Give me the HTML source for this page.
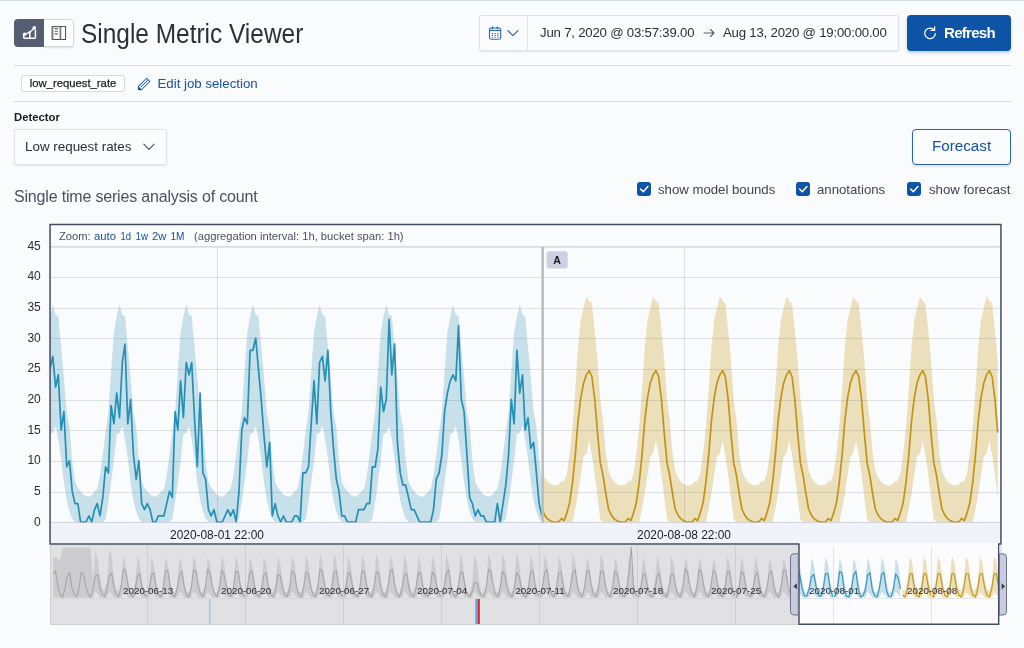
<!DOCTYPE html>
<html><head><meta charset="utf-8"><title>Single Metric Viewer</title>
<style>
*{box-sizing:border-box;margin:0;padding:0}
html,body{width:1024px;height:648px;overflow:hidden;background:#fafbfd;font-family:"Liberation Sans",sans-serif;color:#1a1c21}
.abs{position:absolute}
#topline{left:0;top:0;width:1024px;height:1px;background:#d3dae6}
.hr{height:1px;background:#d3dae6;left:14px;width:997px}
#bg1{left:14.3px;top:18.8px;width:30px;height:28px;background:#575e71;border-radius:4px 0 0 4px}
#bg2{left:43.8px;top:18.8px;width:29.9px;height:28px;background:#fff;border:1px solid #d3dae6;border-left:none;border-radius:0 4px 4px 0;box-shadow:0 1px 2px rgba(100,110,140,.2)}
#title{left:81px;top:16.5px;font-size:27px;line-height:34px;white-space:nowrap;color:#2c2f37;transform:scaleX(.905);transform-origin:0 0}
#dp{left:479.3px;top:14.8px;width:419.7px;height:36.2px;background:#fbfcfd;border:1px solid #dde2ec;border-radius:2px;box-shadow:0 1px 2px rgba(120,130,160,.18)}
#dpsep{left:527px;top:16px;width:1px;height:34px;background:#dfe4ee}
.dpt{top:15px;height:36px;line-height:36px;font-size:13.2px;color:#2b2e36;white-space:nowrap;letter-spacing:-0.2px}
#refresh{left:907px;top:15px;width:104px;height:35.6px;background:#0e54a6;border-radius:4px;box-shadow:0 2px 3px rgba(14,84,166,.25)}
#refresh span{position:absolute;left:37px;top:0;line-height:35px;font-size:15px;font-weight:bold;color:#fff;letter-spacing:-0.7px}
#badge{left:21px;top:74.8px;width:104px;height:17.6px;-webkit-text-stroke:0.25px #1a1c21;background:#fff;border:1px solid #d3dae6;border-radius:3px;font-size:11.3px;line-height:15.6px;text-align:center;color:#1a1c21;white-space:nowrap}
#edit{left:157.5px;top:75px;font-size:13.25px;line-height:18px;color:#1452a2;white-space:nowrap}
#detlab{left:14px;top:110px;font-size:11.3px;line-height:14px;font-weight:bold;color:#1a1c21}
#select{left:14px;top:129px;width:153px;height:36px;background:#fbfcfd;border:1px solid #dde2ec;border-radius:2px;box-shadow:0 1px 2px rgba(120,130,160,.18)}
#select span{position:absolute;left:10px;top:0;line-height:34px;font-size:13.4px;color:#2b2e36;white-space:nowrap}
#forecast{left:912px;top:129px;width:99.2px;height:36px;border:1px solid #2a62ab;border-radius:4px;background:#fbfcfd;text-align:center;line-height:32px;font-size:15.2px;color:#1452a2;box-shadow:0 2px 2px rgba(20,82,162,.12)}
#subtitle{left:14px;top:186.7px;font-size:16px;line-height:20px;color:#4a5061;white-space:nowrap;letter-spacing:-0.18px}
.cb{top:182px;width:14px;height:14px;background:#0e54a6;border-radius:3px}
.cbl{top:181.6px;font-size:13.2px;line-height:16px;color:#3f4450;white-space:nowrap}
svg text{font-family:"Liberation Sans",sans-serif}
</style></head><body>
<div id="wrap" class="abs" style="left:0;top:0;width:1024px;height:648px;will-change:transform">
<div class="abs" id="topline"></div>

<!-- view toggle button group -->
<div class="abs" id="bg1"></div>
<div class="abs" id="bg2"></div>
<svg class="abs" style="left:14px;top:19px" width="60" height="28" viewBox="0 0 60 28">
  <path d="M9.7 16.6v2a.7.7 0 0 0 .7.7h10.3a.7.7 0 0 0 .7-.7v-7" fill="none" stroke="#fff" stroke-width="1.5" stroke-linecap="round"/>
  <path d="M15.8 13.6v5.6" fill="none" stroke="#fff" stroke-width="1.6"/>
  <path d="M10.6 15.3l5.2-2.1 4.6-4.2" fill="none" stroke="#fff" stroke-width="1.25"/>
  <g fill="#fff"><circle cx="10.6" cy="15.3" r="1.8"/><circle cx="15.8" cy="13.2" r="1.15"/><circle cx="20.3" cy="8.9" r="1.85"/></g>
  <g fill="none" stroke="#48494f" stroke-width="1">
    <rect x="38.2" y="7.6" width="13.4" height="12.9"/>
    <path d="M40.6 9.6h3.3M40.6 12.2h3.3M40.6 14.9h3.3" stroke="#5d5e64" stroke-width="1.1"/>
    <path d="M46.4 7.6v12.9" stroke="#77787e" stroke-width="1.7"/>
    <path d="M38.6 7.6v12.9" stroke="#77787e" stroke-width="1.5"/>
  </g>
</svg>
<div class="abs" id="title">Single Metric Viewer</div>

<!-- date picker -->
<div class="abs" id="dp"></div>
<div class="abs" id="dpsep"></div>
<svg class="abs" style="left:486px;top:22px" width="40" height="22" viewBox="0 0 40 22">
  <g fill="none" stroke="#2f66ad" stroke-width="1.1" stroke-linejoin="round">
    <rect x="3.5" y="6" width="11.2" height="11.2" rx="1.6"/>
    <path d="M3.5 8.5h11.2"/>
    <path d="M6.6 5.2v1.4M11.4 5.2v1.4" stroke-width="1.6" stroke-linecap="round"/>
    <path d="M6.45 11v5M9.15 11v5M11.9 11v5" stroke-width="1.2" stroke-dasharray="1.1 0.75"/>
    <path d="M21.9 8.7l5 5 5-5" stroke-width="1.2" stroke-linecap="round"/>
  </g>
</svg>
<div class="abs dpt" style="left:540px">Jun 7, 2020 @ 03:57:39.00</div>
<svg class="abs" style="left:703px;top:27px" width="14" height="12" viewBox="0 0 14 12"><path d="M1 6h10M7.5 2.5L11 6l-3.5 3.5" fill="none" stroke="#555b68" stroke-width="1.1" stroke-linecap="round" stroke-linejoin="round"/></svg>
<div class="abs dpt" style="left:723px">Aug 13, 2020 @ 19:00:00.00</div>

<!-- refresh -->
<div class="abs" id="refresh">
  <svg class="abs" style="left:15px;top:10px" width="16" height="16" viewBox="0 0 16 16"><path d="M12.2 5.1A5.3 5.3 0 1 0 13.3 8.6" fill="none" stroke="#fff" stroke-width="1.3" stroke-linecap="round"/><path d="M12.6 1.8v3.6H9.2" fill="none" stroke="#fff" stroke-width="1.3" stroke-linecap="round" stroke-linejoin="round"/></svg>
  <span>Refresh</span>
</div>

<div class="abs hr" style="top:65px"></div>
<div class="abs" id="badge">low_request_rate</div>
<svg class="abs" style="left:136.5px;top:76.5px" width="14" height="14" viewBox="0 0 16 16"><path fill="#1452a2" d="M12.148 3.148L11 2l-9 9v3h3l9-9-1.144-1.144-8.002 7.998a.502.502 0 01-.708 0 .502.502 0 010-.708l8.002-7.998zM11 1c.256 0 .512.098.707.293l3 3a.999.999 0 010 1.414l-9 9A.997.997 0 015 15H2a1 1 0 01-1-1v-3c0-.265.105-.52.293-.707l9-9A.997.997 0 0111 1zM5 14H2v-3l3 3z"/></svg>
<div class="abs" id="edit">Edit job selection</div>
<div class="abs hr" style="top:101px"></div>

<div class="abs" id="detlab">Detector</div>
<div class="abs" id="select"><span>Low request rates</span>
  <svg class="abs" style="left:127px;top:12px" width="14" height="10" viewBox="0 0 14 10"><path d="M1.8 2.2L7 7.4l5.2-5.2" fill="none" stroke="#4a4f5c" stroke-width="1.1" stroke-linecap="round" stroke-linejoin="round"/></svg>
</div>
<div class="abs" id="forecast">Forecast</div>

<div class="abs" id="subtitle">Single time series analysis of count</div>

<div class="abs cb" style="left:637px"></div><div class="abs cbl" style="left:658px">show model bounds</div>
<div class="abs cb" style="left:796px"></div><div class="abs cbl" style="left:817px">annotations</div>
<div class="abs cb" style="left:907px"></div><div class="abs cbl" style="left:929px">show forecast</div>
<svg class="abs" style="left:0;top:182px" width="1024" height="14" viewBox="0 182 1024 14">
  <g fill="none" stroke="#fff" stroke-width="1.5" stroke-linecap="round" stroke-linejoin="round">
    <path d="M640.6 189l2.7 2.7 4.6-5.2"/><path d="M799.6 189l2.7 2.7 4.6-5.2"/><path d="M910.6 189l2.7 2.7 4.6-5.2"/>
  </g>
</svg>

<!-- ================= CHART ================= -->
<svg class="abs" style="left:0;top:215px" width="1024" height="433" viewBox="0 215 1024 433">
  <defs>
    <clipPath id="fclip"><rect x="50" y="248" width="950" height="274.5"/></clipPath>
    <clipPath id="cmask"><rect x="50" y="545" width="749" height="80"/></clipPath>
    <clipPath id="csel"><rect x="799" y="545" width="201" height="80"/></clipPath>
  </defs>
  <!-- focus backgrounds -->
  <rect x="50" y="225" width="950.5" height="22" fill="#fbfcfd"/>
  <rect x="50" y="523" width="950.5" height="20.4" fill="#f0f3f9"/>
  <!-- gridlines -->
  <path d="M50 246.8H1000" stroke="#cbd0dd" stroke-width="1.2"/>
  <path d="M50 522.5H1000" stroke="#d0d3dc" stroke-width="1"/>
  <!-- y labels -->
  <g font-size="12" fill="#2b2e36" text-anchor="end">
    <text x="40.8" y="249.7">45</text><text x="40.8" y="280.2">40</text><text x="40.8" y="310.9">35</text><text x="40.8" y="341.6">30</text><text x="40.8" y="372.2">25</text><text x="40.8" y="402.9">20</text><text x="40.8" y="433.6">15</text><text x="40.8" y="464.2">10</text><text x="40.8" y="494.9">5</text><text x="40.8" y="525.6">0</text>
  </g>
  <!-- zoom row -->
  <g font-size="11.2" fill="#4a5061">
    <text x="59" y="239.6">Zoom:</text>
    <g fill="#1452a2"><text x="94" y="239.6" textLength="22" lengthAdjust="spacingAndGlyphs">auto</text><text x="120.5" y="239.6" textLength="10.5" lengthAdjust="spacingAndGlyphs">1d</text><text x="135.5" y="239.6" textLength="12.5" lengthAdjust="spacingAndGlyphs">1w</text><text x="152" y="239.6" textLength="14.5" lengthAdjust="spacingAndGlyphs">2w</text><text x="170.5" y="239.6" textLength="14" lengthAdjust="spacingAndGlyphs">1M</text></g>
    <text x="194" y="239.6">(aggregation interval: 1h, bucket span: 1h)</text>
  </g>
  <!-- data -->
  <g clip-path="url(#fclip)">
    <path d="M50.0,316.2 L52.8,304.4 L55.6,314.8 L58.3,315.9 L61.1,346.7 L63.9,377.4 L66.7,412.3 L69.5,426.7 L72.2,460.2 L75.0,481.8 L77.8,487.6 L80.6,491.3 L83.3,494.4 L86.1,496.2 L88.9,496.8 L91.7,495.0 L94.5,491.4 L97.2,488.9 L100.0,475.6 L102.8,454.8 L105.6,431.6 L108.4,411.9 L111.1,372.3 L113.9,332.5 L116.7,316.2 L119.5,304.4 L122.3,314.8 L125.0,315.9 L127.8,346.7 L130.6,377.4 L133.4,412.3 L136.2,426.7 L138.9,460.2 L141.7,481.8 L144.5,487.6 L147.3,491.3 L150.1,494.4 L152.8,496.2 L155.6,496.8 L158.4,495.0 L161.2,491.4 L163.9,488.9 L166.7,475.6 L169.5,454.8 L172.3,431.6 L175.1,411.9 L177.8,372.3 L180.6,332.5 L183.4,316.2 L186.2,304.4 L189.0,314.8 L191.7,315.9 L194.5,346.7 L197.3,377.4 L200.1,412.3 L202.9,426.7 L205.6,460.2 L208.4,481.8 L211.2,487.6 L214.0,491.3 L216.8,494.4 L219.5,496.2 L222.3,496.8 L225.1,495.0 L227.9,491.4 L230.6,488.9 L233.4,475.6 L236.2,454.8 L239.0,431.6 L241.8,411.9 L244.5,372.3 L247.3,332.5 L250.1,316.2 L252.9,304.4 L255.7,314.8 L258.4,315.9 L261.2,346.7 L264.0,377.4 L266.8,412.3 L269.6,426.7 L272.3,460.2 L275.1,481.8 L277.9,487.6 L280.7,491.3 L283.5,494.4 L286.2,496.2 L289.0,496.8 L291.8,495.0 L294.6,491.4 L297.3,488.9 L300.1,475.6 L302.9,454.8 L305.7,431.6 L308.5,411.9 L311.2,372.3 L314.0,332.5 L316.8,316.2 L319.6,304.4 L322.4,314.8 L325.1,315.9 L327.9,346.7 L330.7,377.4 L333.5,412.3 L336.3,426.7 L339.0,460.2 L341.8,481.8 L344.6,487.6 L347.4,491.3 L350.2,494.4 L352.9,496.2 L355.7,496.8 L358.5,495.0 L361.3,491.4 L364.0,488.9 L366.8,475.6 L369.6,454.8 L372.4,431.6 L375.2,411.9 L377.9,372.3 L380.7,332.5 L383.5,316.2 L386.3,304.4 L389.1,314.8 L391.8,315.9 L394.6,346.7 L397.4,377.4 L400.2,412.3 L403.0,426.7 L405.7,460.2 L408.5,481.8 L411.3,487.6 L414.1,491.3 L416.9,494.4 L419.6,496.2 L422.4,496.8 L425.2,495.0 L428.0,491.4 L430.7,488.9 L433.5,475.6 L436.3,454.8 L439.1,431.6 L441.9,411.9 L444.6,372.3 L447.4,332.5 L450.2,316.2 L453.0,304.4 L455.8,314.8 L458.5,315.9 L461.3,346.7 L464.1,377.4 L466.9,412.3 L469.7,426.7 L472.4,460.2 L475.2,481.8 L478.0,487.6 L480.8,491.3 L483.6,494.4 L486.3,496.2 L489.1,496.8 L491.9,495.0 L494.7,491.4 L497.4,488.9 L500.2,475.6 L503.0,454.8 L505.8,431.6 L508.6,411.9 L511.3,372.3 L514.1,332.5 L516.9,316.2 L519.7,304.4 L522.5,314.8 L525.2,315.9 L528.0,346.7 L530.8,377.4 L533.6,412.3 L536.4,426.7 L539.1,460.2 L541.9,481.8 L541.9,522.0 L539.1,518.8 L536.4,511.4 L533.6,500.3 L530.8,482.4 L528.0,459.1 L525.2,439.6 L522.5,425.8 L519.7,433.1 L516.9,434.1 L514.1,461.0 L511.3,482.4 L508.6,502.0 L505.8,519.0 L503.0,522.0 L500.2,522.0 L497.4,522.0 L494.7,522.0 L491.9,522.0 L489.1,522.0 L486.3,522.0 L483.6,522.0 L480.8,522.0 L478.0,522.0 L475.2,522.0 L472.4,518.8 L469.7,511.4 L466.9,500.3 L464.1,482.4 L461.3,459.1 L458.5,439.6 L455.8,425.8 L453.0,433.1 L450.2,434.1 L447.4,461.0 L444.6,482.4 L441.9,502.0 L439.1,519.0 L436.3,522.0 L433.5,522.0 L430.7,522.0 L428.0,522.0 L425.2,522.0 L422.4,522.0 L419.6,522.0 L416.9,522.0 L414.1,522.0 L411.3,522.0 L408.5,522.0 L405.7,518.8 L403.0,511.4 L400.2,500.3 L397.4,482.4 L394.6,459.1 L391.8,439.6 L389.1,425.8 L386.3,433.1 L383.5,434.1 L380.7,461.0 L377.9,482.4 L375.2,502.0 L372.4,519.0 L369.6,522.0 L366.8,522.0 L364.0,522.0 L361.3,522.0 L358.5,522.0 L355.7,522.0 L352.9,522.0 L350.2,522.0 L347.4,522.0 L344.6,522.0 L341.8,522.0 L339.0,518.8 L336.3,511.4 L333.5,500.3 L330.7,482.4 L327.9,459.1 L325.1,439.6 L322.4,425.8 L319.6,433.1 L316.8,434.1 L314.0,461.0 L311.2,482.4 L308.5,502.0 L305.7,519.0 L302.9,522.0 L300.1,522.0 L297.3,522.0 L294.6,522.0 L291.8,522.0 L289.0,522.0 L286.2,522.0 L283.5,522.0 L280.7,522.0 L277.9,522.0 L275.1,522.0 L272.3,518.8 L269.6,511.4 L266.8,500.3 L264.0,482.4 L261.2,459.1 L258.4,439.6 L255.7,425.8 L252.9,433.1 L250.1,434.1 L247.3,461.0 L244.5,482.4 L241.8,502.0 L239.0,519.0 L236.2,522.0 L233.4,522.0 L230.6,522.0 L227.9,522.0 L225.1,522.0 L222.3,522.0 L219.5,522.0 L216.8,522.0 L214.0,522.0 L211.2,522.0 L208.4,522.0 L205.6,518.8 L202.9,511.4 L200.1,500.3 L197.3,482.4 L194.5,459.1 L191.7,439.6 L189.0,425.8 L186.2,433.1 L183.4,434.1 L180.6,461.0 L177.8,482.4 L175.1,502.0 L172.3,519.0 L169.5,522.0 L166.7,522.0 L163.9,522.0 L161.2,522.0 L158.4,522.0 L155.6,522.0 L152.8,522.0 L150.1,522.0 L147.3,522.0 L144.5,522.0 L141.7,522.0 L138.9,518.8 L136.2,511.4 L133.4,500.3 L130.6,482.4 L127.8,459.1 L125.0,439.6 L122.3,425.8 L119.5,433.1 L116.7,434.1 L113.9,461.0 L111.1,482.4 L108.4,502.0 L105.6,519.0 L102.8,522.0 L100.0,522.0 L97.2,522.0 L94.5,522.0 L91.7,522.0 L88.9,522.0 L86.1,522.0 L83.3,522.0 L80.6,522.0 L77.8,522.0 L75.0,522.0 L72.2,518.8 L69.5,511.4 L66.7,500.3 L63.9,482.4 L61.1,459.1 L58.3,439.6 L55.6,425.8 L52.8,433.1 L50.0,434.1Z" fill="#c8e0ea"/>
    <path d="M543.2,474.0 L544.7,477.7 L547.5,481.5 L550.2,483.9 L553.0,485.2 L555.8,485.2 L558.6,484.6 L561.4,481.6 L564.1,480.9 L566.9,473.1 L569.7,453.0 L572.5,427.3 L575.3,388.9 L578.0,347.8 L580.8,320.0 L583.6,308.1 L586.4,296.5 L589.2,301.1 L591.9,303.6 L594.7,329.6 L597.5,360.2 L600.3,398.8 L603.1,421.1 L605.8,452.8 L608.6,470.8 L611.4,477.7 L614.2,481.5 L617.0,483.9 L619.7,485.2 L622.5,485.2 L625.3,484.6 L628.1,481.6 L630.8,480.9 L633.6,473.1 L636.4,453.0 L639.2,427.3 L642.0,388.9 L644.7,347.8 L647.5,320.0 L650.3,308.1 L653.1,296.5 L655.9,301.1 L658.6,303.6 L661.4,329.6 L664.2,360.2 L667.0,398.8 L669.8,421.1 L672.5,452.8 L675.3,470.8 L678.1,477.7 L680.9,481.5 L683.6,483.9 L686.4,485.2 L689.2,485.2 L692.0,484.6 L694.8,481.6 L697.5,480.9 L700.3,473.1 L703.1,453.0 L705.9,427.3 L708.7,388.9 L711.4,347.8 L714.2,320.0 L717.0,308.1 L719.8,296.5 L722.6,301.1 L725.3,303.6 L728.1,329.6 L730.9,360.2 L733.7,398.8 L736.5,421.1 L739.2,452.8 L742.0,470.8 L744.8,477.7 L747.6,481.5 L750.4,483.9 L753.1,485.2 L755.9,485.2 L758.7,484.6 L761.5,481.6 L764.2,480.9 L767.0,473.1 L769.8,453.0 L772.6,427.3 L775.4,388.9 L778.1,347.8 L780.9,320.0 L783.7,308.1 L786.5,296.5 L789.3,301.1 L792.0,303.6 L794.8,329.6 L797.6,360.2 L800.4,398.8 L803.2,421.1 L805.9,452.8 L808.7,470.8 L811.5,477.7 L814.3,481.5 L817.1,483.9 L819.8,485.2 L822.6,485.2 L825.4,484.6 L828.2,481.6 L830.9,480.9 L833.7,473.1 L836.5,453.0 L839.3,427.3 L842.1,388.9 L844.8,347.8 L847.6,320.0 L850.4,308.1 L853.2,296.5 L856.0,301.1 L858.7,303.6 L861.5,329.6 L864.3,360.2 L867.1,398.8 L869.9,421.1 L872.6,452.8 L875.4,470.8 L878.2,477.7 L881.0,481.5 L883.8,483.9 L886.5,485.2 L889.3,485.2 L892.1,484.6 L894.9,481.6 L897.6,480.9 L900.4,473.1 L903.2,453.0 L906.0,427.3 L908.8,388.9 L911.5,347.8 L914.3,320.0 L917.1,308.1 L919.9,296.5 L922.7,301.1 L925.4,303.6 L928.2,329.6 L931.0,360.2 L933.8,398.8 L936.6,421.1 L939.3,452.8 L942.1,470.8 L944.9,477.7 L947.7,481.5 L950.5,483.9 L953.2,485.2 L956.0,485.2 L958.8,484.6 L961.6,481.6 L964.3,480.9 L967.1,473.1 L969.9,453.0 L972.7,427.3 L975.5,388.9 L978.2,347.8 L981.0,320.0 L983.8,308.1 L986.6,296.5 L989.4,301.1 L992.1,303.6 L994.9,329.6 L997.7,360.2 L997.7,497.1 L994.9,474.5 L992.1,454.9 L989.4,440.6 L986.6,453.4 L983.8,456.6 L981.0,475.1 L978.2,494.0 L975.5,508.7 L972.7,522.0 L969.9,522.0 L967.1,522.0 L964.3,522.0 L961.6,522.0 L958.8,522.0 L956.0,522.0 L953.2,522.0 L950.5,522.0 L947.7,522.0 L944.9,522.0 L942.1,522.0 L939.3,522.0 L936.6,522.0 L933.8,519.8 L931.0,497.1 L928.2,474.5 L925.4,454.9 L922.7,440.6 L919.9,453.4 L917.1,456.6 L914.3,475.1 L911.5,494.0 L908.8,508.7 L906.0,522.0 L903.2,522.0 L900.4,522.0 L897.6,522.0 L894.9,522.0 L892.1,522.0 L889.3,522.0 L886.5,522.0 L883.8,522.0 L881.0,522.0 L878.2,522.0 L875.4,522.0 L872.6,522.0 L869.9,522.0 L867.1,519.8 L864.3,497.1 L861.5,474.5 L858.7,454.9 L856.0,440.6 L853.2,453.4 L850.4,456.6 L847.6,475.1 L844.8,494.0 L842.1,508.7 L839.3,522.0 L836.5,522.0 L833.7,522.0 L830.9,522.0 L828.2,522.0 L825.4,522.0 L822.6,522.0 L819.8,522.0 L817.1,522.0 L814.3,522.0 L811.5,522.0 L808.7,522.0 L805.9,522.0 L803.2,522.0 L800.4,519.8 L797.6,497.1 L794.8,474.5 L792.0,454.9 L789.3,440.6 L786.5,453.4 L783.7,456.6 L780.9,475.1 L778.1,494.0 L775.4,508.7 L772.6,522.0 L769.8,522.0 L767.0,522.0 L764.2,522.0 L761.5,522.0 L758.7,522.0 L755.9,522.0 L753.1,522.0 L750.4,522.0 L747.6,522.0 L744.8,522.0 L742.0,522.0 L739.2,522.0 L736.5,522.0 L733.7,519.8 L730.9,497.1 L728.1,474.5 L725.3,454.9 L722.6,440.6 L719.8,453.4 L717.0,456.6 L714.2,475.1 L711.4,494.0 L708.7,508.7 L705.9,522.0 L703.1,522.0 L700.3,522.0 L697.5,522.0 L694.8,522.0 L692.0,522.0 L689.2,522.0 L686.4,522.0 L683.6,522.0 L680.9,522.0 L678.1,522.0 L675.3,522.0 L672.5,522.0 L669.8,522.0 L667.0,519.8 L664.2,497.1 L661.4,474.5 L658.6,454.9 L655.9,440.6 L653.1,453.4 L650.3,456.6 L647.5,475.1 L644.7,494.0 L642.0,508.7 L639.2,522.0 L636.4,522.0 L633.6,522.0 L630.8,522.0 L628.1,522.0 L625.3,522.0 L622.5,522.0 L619.7,522.0 L617.0,522.0 L614.2,522.0 L611.4,522.0 L608.6,522.0 L605.8,522.0 L603.1,522.0 L600.3,519.8 L597.5,497.1 L594.7,474.5 L591.9,454.9 L589.2,440.6 L586.4,453.4 L583.6,456.6 L580.8,475.1 L578.0,494.0 L575.3,508.7 L572.5,522.0 L569.7,522.0 L566.9,522.0 L564.1,522.0 L561.4,522.0 L558.6,522.0 L555.8,522.0 L553.0,522.0 L550.2,522.0 L547.5,522.0 L544.7,522.0 L543.2,522.0Z" fill="#ece0bc"/>
  </g>
  <g stroke="rgba(40,44,60,0.13)" stroke-width="1" shape-rendering="crispEdges">
    <path d="M50 277.5H1000M50 308.5H1000M50 338.5H1000M50 369.5H1000M50 400.5H1000M50 430.5H1000M50 461.5H1000M50 492.5H1000"/>
    <path d="M217.5 248V522M684.5 248V522"/>
  </g>
  <g clip-path="url(#fclip)">
    <path d="M50.0,368.7 L52.8,356.4 L55.6,387.1 L58.3,374.8 L61.1,430.0 L63.9,411.6 L66.7,466.8 L69.5,460.7 L72.2,491.3 L75.0,503.6 L77.8,503.6 L80.6,522.0 L83.3,522.0 L86.1,522.0 L88.9,515.9 L91.7,522.0 L94.5,509.7 L97.2,503.6 L100.0,515.9 L102.8,497.5 L105.6,466.8 L108.4,472.9 L111.1,405.5 L113.9,423.9 L116.7,393.2 L119.5,417.7 L122.3,362.5 L125.0,344.1 L127.8,423.9 L130.6,399.3 L133.4,454.5 L136.2,479.1 L138.9,460.7 L141.7,503.6 L144.5,509.7 L147.3,503.6 L150.1,509.7 L152.8,522.0 L155.6,522.0 L158.4,515.9 L161.2,515.9 L163.9,515.9 L166.7,503.6 L169.5,491.3 L172.3,497.5 L175.1,411.6 L177.8,430.0 L180.6,380.9 L183.4,417.7 L186.2,362.5 L189.0,374.8 L191.7,362.5 L194.5,417.7 L197.3,466.8 L200.1,393.2 L202.9,472.9 L205.6,479.1 L208.4,509.7 L211.2,515.9 L214.0,509.7 L216.8,522.0 L219.5,522.0 L222.3,522.0 L225.1,515.9 L227.9,509.7 L230.6,515.9 L233.4,509.7 L236.2,522.0 L239.0,491.3 L241.8,430.0 L244.5,417.7 L247.3,423.9 L250.1,350.3 L252.9,350.3 L255.7,338.0 L258.4,368.7 L261.2,399.3 L264.0,436.1 L266.8,466.8 L269.6,442.3 L272.3,515.9 L275.1,503.6 L277.9,515.9 L280.7,522.0 L283.5,515.9 L286.2,522.0 L289.0,522.0 L291.8,522.0 L294.6,515.9 L297.3,515.9 L300.1,522.0 L302.9,472.9 L305.7,472.9 L308.5,466.8 L311.2,423.9 L314.0,380.9 L316.8,423.9 L319.6,362.5 L322.4,356.4 L325.1,380.9 L327.9,350.3 L330.7,411.6 L333.5,448.4 L336.3,479.1 L339.0,491.3 L341.8,515.9 L344.6,515.9 L347.4,522.0 L350.2,522.0 L352.9,522.0 L355.7,522.0 L358.5,509.7 L361.3,509.7 L364.0,509.7 L366.8,503.6 L369.6,503.6 L372.4,466.8 L375.2,466.8 L377.9,448.4 L380.7,387.1 L383.5,411.6 L386.3,399.3 L389.1,319.6 L391.8,374.8 L394.6,344.1 L397.4,442.3 L400.2,472.9 L403.0,485.2 L405.7,485.2 L408.5,497.5 L411.3,509.7 L414.1,509.7 L416.9,515.9 L419.6,522.0 L422.4,522.0 L425.2,522.0 L428.0,522.0 L430.7,522.0 L433.5,509.7 L436.3,479.1 L439.1,472.9 L441.9,454.5 L444.6,411.6 L447.4,393.2 L450.2,380.9 L453.0,374.8 L455.8,380.9 L458.5,325.7 L461.3,399.3 L464.1,411.6 L466.9,454.5 L469.7,497.5 L472.4,503.6 L475.2,515.9 L478.0,509.7 L480.8,515.9 L483.6,515.9 L486.3,522.0 L489.1,522.0 L491.9,522.0 L494.7,522.0 L497.4,503.6 L500.2,522.0 L503.0,503.6 L505.8,485.2 L508.6,454.5 L511.3,399.3 L514.1,423.9 L516.9,350.3 L519.7,393.2 L522.5,374.8 L525.2,430.0 L528.0,417.7 L530.8,448.4 L533.6,442.3 L536.4,472.9 L539.1,503.6 L541.9,515.9" fill="none" stroke="#2590b4" stroke-width="1.7" stroke-linejoin="round"/>
    <path d="M543.2,512.1 L544.7,515.2 L547.5,518.9 L550.2,520.7 L553.0,522.0 L555.8,522.0 L558.6,522.0 L561.4,518.4 L564.1,520.7 L566.9,512.9 L569.7,502.5 L572.5,482.4 L575.3,454.9 L578.0,421.3 L580.8,397.8 L583.6,383.0 L586.4,374.9 L589.2,370.6 L591.9,376.5 L594.7,399.0 L597.5,432.6 L600.3,462.7 L603.1,475.8 L605.8,493.5 L608.6,509.5 L611.4,515.2 L614.2,518.9 L617.0,520.7 L619.7,522.0 L622.5,522.0 L625.3,522.0 L628.1,518.4 L630.8,520.7 L633.6,512.9 L636.4,502.5 L639.2,482.4 L642.0,454.9 L644.7,421.3 L647.5,397.8 L650.3,383.0 L653.1,374.9 L655.9,370.6 L658.6,376.5 L661.4,399.0 L664.2,432.6 L667.0,462.7 L669.8,475.8 L672.5,493.5 L675.3,509.5 L678.1,515.2 L680.9,518.9 L683.6,520.7 L686.4,522.0 L689.2,522.0 L692.0,522.0 L694.8,518.4 L697.5,520.7 L700.3,512.9 L703.1,502.5 L705.9,482.4 L708.7,454.9 L711.4,421.3 L714.2,397.8 L717.0,383.0 L719.8,374.9 L722.6,370.6 L725.3,376.5 L728.1,399.0 L730.9,432.6 L733.7,462.7 L736.5,475.8 L739.2,493.5 L742.0,509.5 L744.8,515.2 L747.6,518.9 L750.4,520.7 L753.1,522.0 L755.9,522.0 L758.7,522.0 L761.5,518.4 L764.2,520.7 L767.0,512.9 L769.8,502.5 L772.6,482.4 L775.4,454.9 L778.1,421.3 L780.9,397.8 L783.7,383.0 L786.5,374.9 L789.3,370.6 L792.0,376.5 L794.8,399.0 L797.6,432.6 L800.4,462.7 L803.2,475.8 L805.9,493.5 L808.7,509.5 L811.5,515.2 L814.3,518.9 L817.1,520.7 L819.8,522.0 L822.6,522.0 L825.4,522.0 L828.2,518.4 L830.9,520.7 L833.7,512.9 L836.5,502.5 L839.3,482.4 L842.1,454.9 L844.8,421.3 L847.6,397.8 L850.4,383.0 L853.2,374.9 L856.0,370.6 L858.7,376.5 L861.5,399.0 L864.3,432.6 L867.1,462.7 L869.9,475.8 L872.6,493.5 L875.4,509.5 L878.2,515.2 L881.0,518.9 L883.8,520.7 L886.5,522.0 L889.3,522.0 L892.1,522.0 L894.9,518.4 L897.6,520.7 L900.4,512.9 L903.2,502.5 L906.0,482.4 L908.8,454.9 L911.5,421.3 L914.3,397.8 L917.1,383.0 L919.9,374.9 L922.7,370.6 L925.4,376.5 L928.2,399.0 L931.0,432.6 L933.8,462.7 L936.6,475.8 L939.3,493.5 L942.1,509.5 L944.9,515.2 L947.7,518.9 L950.5,520.7 L953.2,522.0 L956.0,522.0 L958.8,522.0 L961.6,518.4 L964.3,520.7 L967.1,512.9 L969.9,502.5 L972.7,482.4 L975.5,454.9 L978.2,421.3 L981.0,397.8 L983.8,383.0 L986.6,374.9 L989.4,370.6 L992.1,376.5 L994.9,399.0 L997.7,432.6" fill="none" stroke="#c09418" stroke-width="1.7" stroke-linejoin="round"/>
  </g>
  <!-- annotation -->
  <rect x="541.4" y="247" width="2.5" height="276" fill="#bbbcc0"/>
  <rect x="546.6" y="251.3" width="21.1" height="17.3" rx="2.5" fill="#cbd1e1"/>
  <text x="557" y="264.3" font-size="10.6" font-weight="bold" fill="#1a1c21" text-anchor="middle">A</text>
  <!-- x labels -->
  <g font-size="11.9" fill="#1a1c21" text-anchor="middle">
    <text x="217" y="539.3">2020-08-01 22:00</text><text x="684" y="539.3">2020-08-08 22:00</text>
  </g>

  <!-- context chart -->
  <rect x="50" y="545" width="749" height="79.5" fill="#e1e1e3"/>
  <rect x="799" y="543.2" width="200" height="81.3" fill="#fcfcfe"/>
  <g clip-path="url(#cmask)">
    <path d="M53.2,557.1 L55.5,557.5 L57.9,559.5 L60.2,559.8 L62.6,547.7 L64.9,547.7 L67.2,547.7 L69.6,547.7 L71.9,547.7 L74.3,547.7 L76.6,547.7 L78.9,547.7 L81.3,547.7 L83.6,547.7 L86.0,547.7 L88.3,547.7 L90.6,547.7 L93.0,580.6 L95.3,552.0 L97.7,559.8 L100.0,577.0 L102.3,589.0 L104.7,589.5 L107.0,582.1 L109.4,549.1 L111.7,557.0 L114.0,579.6 L116.4,590.2 L118.7,590.4 L121.1,582.5 L123.4,556.5 L125.7,563.2 L128.1,580.0 L130.4,591.0 L132.8,590.9 L135.1,583.6 L137.5,556.2 L139.8,562.8 L142.1,581.2 L144.5,591.4 L146.8,592.2 L149.2,584.0 L151.5,556.6 L153.8,563.9 L156.2,581.5 L158.5,592.3 L160.9,592.1 L163.2,585.1 L165.5,557.6 L167.9,564.8 L170.2,582.1 L172.6,592.4 L174.9,592.3 L177.2,585.1 L179.6,557.8 L181.9,564.7 L184.3,582.3 L186.6,592.7 L188.9,591.9 L191.3,584.0 L193.6,555.2 L196.0,562.7 L198.3,580.6 L200.6,591.7 L203.0,591.9 L205.3,584.9 L207.7,557.2 L210.0,564.1 L212.3,581.6 L214.7,592.6 L217.0,592.2 L219.4,584.2 L221.7,555.4 L224.0,562.5 L226.4,580.9 L228.7,592.2 L231.1,592.4 L233.4,584.7 L235.7,556.7 L238.1,563.0 L240.4,581.4 L242.8,592.2 L245.1,591.9 L247.4,584.8 L249.8,557.1 L252.1,563.8 L254.5,581.3 L256.8,591.7 L259.1,592.5 L261.5,584.6 L263.8,556.9 L266.2,563.1 L268.5,582.0 L270.9,591.8 L273.2,591.9 L275.5,584.9 L277.9,556.6 L280.2,563.4 L282.6,581.8 L284.9,592.2 L287.2,591.9 L289.6,584.4 L291.9,555.7 L294.3,562.1 L296.6,581.3 L298.9,591.8 L301.3,591.9 L303.6,584.8 L306.0,555.0 L308.3,562.4 L310.6,580.8 L313.0,592.0 L315.3,591.9 L317.7,584.0 L320.0,554.3 L322.3,561.9 L324.7,580.5 L327.0,591.9 L329.4,592.2 L331.7,584.3 L334.0,554.1 L336.4,562.0 L338.7,581.4 L341.1,592.3 L343.4,592.4 L345.7,584.7 L348.1,556.3 L350.4,563.2 L352.8,582.2 L355.1,592.5 L357.4,592.2 L359.8,584.8 L362.1,554.9 L364.5,562.0 L366.8,581.5 L369.1,592.4 L371.5,591.8 L373.8,584.7 L376.2,554.7 L378.5,561.8 L380.8,581.3 L383.2,591.7 L385.5,592.3 L387.9,584.3 L390.2,555.2 L392.5,562.1 L394.9,581.9 L397.2,592.6 L399.6,592.3 L401.9,584.8 L404.3,554.5 L406.6,561.7 L408.9,581.2 L411.3,592.2 L413.6,592.3 L416.0,585.0 L418.3,555.8 L420.6,563.1 L423.0,581.7 L425.3,592.5 L427.7,592.0 L430.0,585.2 L432.3,555.8 L434.7,562.3 L437.0,581.6 L439.4,592.3 L441.7,592.0 L444.0,585.3 L446.4,555.3 L448.7,562.5 L451.1,582.3 L453.4,592.7 L455.7,592.5 L458.1,584.3 L460.4,553.9 L462.8,562.0 L465.1,581.5 L467.4,592.3 L469.8,592.7 L472.1,584.4 L474.5,554.8 L476.8,562.0 L479.1,581.9 L481.5,592.6 L483.8,592.0 L486.2,584.4 L488.5,553.4 L490.8,561.4 L493.2,581.0 L495.5,591.8 L497.9,591.8 L500.2,584.4 L502.5,553.7 L504.9,560.8 L507.2,581.2 L509.6,591.9 L511.9,592.0 L514.2,584.5 L516.6,553.6 L518.9,561.3 L521.3,580.9 L523.6,592.0 L525.9,592.6 L528.3,585.1 L530.6,554.7 L533.0,562.3 L535.3,581.6 L537.7,592.0 L540.0,592.6 L542.3,584.9 L544.7,554.9 L547.0,561.8 L549.4,581.0 L551.7,592.1 L554.0,592.3 L556.4,584.7 L558.7,556.3 L561.1,563.3 L563.4,581.6 L565.7,591.9 L568.1,592.4 L570.4,584.2 L572.8,553.1 L575.1,561.0 L577.4,580.7 L579.8,591.5 L582.1,592.5 L584.5,585.5 L586.8,557.1 L589.1,563.5 L591.5,582.2 L593.8,592.4 L596.2,591.8 L598.5,584.5 L600.8,553.7 L603.2,561.5 L605.5,580.7 L607.9,591.8 L610.2,591.9 L612.5,584.6 L614.9,557.2 L617.2,563.8 L619.6,582.3 L621.9,592.7 L624.2,592.3 L626.6,584.9 L628.9,555.6 L631.3,563.3 L633.6,581.2 L635.9,591.9 L638.3,592.5 L640.6,584.5 L643.0,556.9 L645.3,563.5 L647.6,581.9 L650.0,591.9 L652.3,592.1 L654.7,584.3 L657.0,556.4 L659.3,563.5 L661.7,581.2 L664.0,592.3 L666.4,592.5 L668.7,584.4 L671.1,555.4 L673.4,562.9 L675.7,581.4 L678.1,592.1 L680.4,592.5 L682.8,585.0 L685.1,557.8 L687.4,564.0 L689.8,581.5 L692.1,592.5 L694.5,592.3 L696.8,584.8 L699.1,557.4 L701.5,564.7 L703.8,581.5 L706.2,592.6 L708.5,592.8 L710.8,585.0 L713.2,558.5 L715.5,564.9 L717.9,582.1 L720.2,591.9 L722.5,592.0 L724.9,584.7 L727.2,556.7 L729.6,563.5 L731.9,581.1 L734.2,592.0 L736.6,592.2 L738.9,584.1 L741.3,556.2 L743.6,563.4 L745.9,581.3 L748.3,592.4 L750.6,592.5 L753.0,584.6 L755.3,556.3 L757.6,564.0 L760.0,581.6 L762.3,591.9 L764.7,592.7 L767.0,585.2 L769.3,558.0 L771.7,565.1 L774.0,581.5 L776.4,592.2 L778.7,591.9 L781.0,585.1 L783.4,558.2 L785.7,564.4 L788.1,582.1 L790.4,592.3 L792.7,592.5 L795.1,584.6 L797.4,556.9 L799.8,563.2 L802.1,581.2 L804.5,591.9 L806.8,592.6 L809.1,584.4 L811.5,557.7 L813.8,563.8 L816.2,581.1 L818.5,591.8 L820.8,592.5 L823.2,584.5 L825.5,556.7 L827.9,563.2 L830.2,581.2 L832.5,591.7 L834.9,591.9 L837.2,585.1 L839.6,557.4 L841.9,564.7 L844.2,581.6 L846.6,592.1 L848.9,592.5 L851.3,585.3 L853.6,558.2 L855.9,564.7 L858.3,581.6 L860.6,592.3 L863.0,592.3 L865.3,584.3 L867.6,557.5 L870.0,564.4 L872.3,582.1 L874.7,592.3 L877.0,592.3 L879.3,585.1 L881.7,556.8 L884.0,563.8 L886.4,581.7 L888.7,592.0 L891.0,592.4 L893.4,584.8 L895.7,557.4 L898.1,564.0 L900.4,581.7 L900.4,597.5 L898.1,594.0 L895.7,591.7 L893.4,597.5 L891.0,597.5 L888.7,597.5 L886.4,597.5 L884.0,594.0 L881.7,591.7 L879.3,597.5 L877.0,597.5 L874.7,597.5 L872.3,597.5 L870.0,594.0 L867.6,591.7 L865.3,597.5 L863.0,597.5 L860.6,597.5 L858.3,597.5 L855.9,594.0 L853.6,591.7 L851.3,597.5 L848.9,597.5 L846.6,597.5 L844.2,597.5 L841.9,594.0 L839.6,591.7 L837.2,597.5 L834.9,597.5 L832.5,597.5 L830.2,597.5 L827.9,594.0 L825.5,591.7 L823.2,597.5 L820.8,597.5 L818.5,597.5 L816.2,597.5 L813.8,594.0 L811.5,591.7 L809.1,597.5 L806.8,597.5 L804.5,597.5 L802.1,597.5 L799.8,594.0 L797.4,591.7 L795.1,597.5 L792.7,597.5 L790.4,597.5 L788.1,597.5 L785.7,594.0 L783.4,591.7 L781.0,597.5 L778.7,597.5 L776.4,597.5 L774.0,597.5 L771.7,594.0 L769.3,591.7 L767.0,597.5 L764.7,597.5 L762.3,597.5 L760.0,597.5 L757.6,594.0 L755.3,591.7 L753.0,597.5 L750.6,597.5 L748.3,597.5 L745.9,597.5 L743.6,594.0 L741.3,591.7 L738.9,597.5 L736.6,597.5 L734.2,597.5 L731.9,597.5 L729.6,594.0 L727.2,591.7 L724.9,597.5 L722.5,597.5 L720.2,597.5 L717.9,597.5 L715.5,594.0 L713.2,591.7 L710.8,597.5 L708.5,597.5 L706.2,597.5 L703.8,597.5 L701.5,594.0 L699.1,591.7 L696.8,597.5 L694.5,597.5 L692.1,597.5 L689.8,597.5 L687.4,594.0 L685.1,591.7 L682.8,597.5 L680.4,597.5 L678.1,597.5 L675.7,597.5 L673.4,594.0 L671.1,591.7 L668.7,597.5 L666.4,597.5 L664.0,597.5 L661.7,597.5 L659.3,594.0 L657.0,591.7 L654.7,597.5 L652.3,597.5 L650.0,597.5 L647.6,597.5 L645.3,594.0 L643.0,591.7 L640.6,597.5 L638.3,597.5 L635.9,597.5 L633.6,597.5 L631.3,594.0 L628.9,591.7 L626.6,597.5 L624.2,597.5 L621.9,597.5 L619.6,597.5 L617.2,594.0 L614.9,591.7 L612.5,597.5 L610.2,597.5 L607.9,597.5 L605.5,597.5 L603.2,594.0 L600.8,591.7 L598.5,597.5 L596.2,597.5 L593.8,597.5 L591.5,597.5 L589.1,594.0 L586.8,591.7 L584.5,597.5 L582.1,597.5 L579.8,597.5 L577.4,597.5 L575.1,594.0 L572.8,591.7 L570.4,597.5 L568.1,597.5 L565.7,597.5 L563.4,597.5 L561.1,594.0 L558.7,591.7 L556.4,597.5 L554.0,597.5 L551.7,597.5 L549.4,597.5 L547.0,594.0 L544.7,591.7 L542.3,597.5 L540.0,597.5 L537.7,597.5 L535.3,597.5 L533.0,594.0 L530.6,591.7 L528.3,597.5 L525.9,597.5 L523.6,597.5 L521.3,597.5 L518.9,594.0 L516.6,591.7 L514.2,597.5 L511.9,597.5 L509.6,597.5 L507.2,597.5 L504.9,594.0 L502.5,591.7 L500.2,597.5 L497.9,597.5 L495.5,597.5 L493.2,597.5 L490.8,594.0 L488.5,591.7 L486.2,597.5 L483.8,597.5 L481.5,597.5 L479.1,597.5 L476.8,594.0 L474.5,591.7 L472.1,597.5 L469.8,597.5 L467.4,597.5 L465.1,597.5 L462.8,594.0 L460.4,591.7 L458.1,597.5 L455.7,597.5 L453.4,597.5 L451.1,597.5 L448.7,594.0 L446.4,591.7 L444.0,597.5 L441.7,597.5 L439.4,597.5 L437.0,597.5 L434.7,594.0 L432.3,591.7 L430.0,597.5 L427.7,597.5 L425.3,597.5 L423.0,597.5 L420.6,594.0 L418.3,591.7 L416.0,597.5 L413.6,597.5 L411.3,597.5 L408.9,597.5 L406.6,594.0 L404.3,591.7 L401.9,597.5 L399.6,597.5 L397.2,597.5 L394.9,597.5 L392.5,594.0 L390.2,591.7 L387.9,597.5 L385.5,597.5 L383.2,597.5 L380.8,597.5 L378.5,594.0 L376.2,591.7 L373.8,597.5 L371.5,597.5 L369.1,597.5 L366.8,597.5 L364.5,594.0 L362.1,591.7 L359.8,597.5 L357.4,597.5 L355.1,597.5 L352.8,597.5 L350.4,594.0 L348.1,591.7 L345.7,597.5 L343.4,597.5 L341.1,597.5 L338.7,597.5 L336.4,594.0 L334.0,591.7 L331.7,597.5 L329.4,597.5 L327.0,597.5 L324.7,597.5 L322.3,594.0 L320.0,591.7 L317.7,597.5 L315.3,597.5 L313.0,597.5 L310.6,597.5 L308.3,594.0 L306.0,591.7 L303.6,597.5 L301.3,597.5 L298.9,597.5 L296.6,597.5 L294.3,594.0 L291.9,591.7 L289.6,597.5 L287.2,597.5 L284.9,597.5 L282.6,597.5 L280.2,594.0 L277.9,591.7 L275.5,597.5 L273.2,597.5 L270.9,597.5 L268.5,597.5 L266.2,594.0 L263.8,591.7 L261.5,597.5 L259.1,597.5 L256.8,597.5 L254.5,597.5 L252.1,594.0 L249.8,591.7 L247.4,597.5 L245.1,597.5 L242.8,597.5 L240.4,597.5 L238.1,594.0 L235.7,591.7 L233.4,597.5 L231.1,597.5 L228.7,597.5 L226.4,597.5 L224.0,594.0 L221.7,591.7 L219.4,597.5 L217.0,597.5 L214.7,597.5 L212.3,597.5 L210.0,594.0 L207.7,591.7 L205.3,597.5 L203.0,597.5 L200.6,597.5 L198.3,597.5 L196.0,594.0 L193.6,591.7 L191.3,597.5 L188.9,597.5 L186.6,597.5 L184.3,597.5 L181.9,594.0 L179.6,591.7 L177.2,597.5 L174.9,597.5 L172.6,597.5 L170.2,597.5 L167.9,594.0 L165.5,591.7 L163.2,597.5 L160.9,597.5 L158.5,597.5 L156.2,597.5 L153.8,594.0 L151.5,591.7 L149.2,597.5 L146.8,597.5 L144.5,597.5 L142.1,597.5 L139.8,594.0 L137.5,591.7 L135.1,597.5 L132.8,597.5 L130.4,597.5 L128.1,597.5 L125.7,594.0 L123.4,591.7 L121.1,597.5 L118.7,597.5 L116.4,597.5 L114.0,597.5 L111.7,594.0 L109.4,591.7 L107.0,597.5 L104.7,597.5 L102.3,597.5 L100.0,597.5 L97.7,594.0 L95.3,591.7 L93.0,597.5 L90.6,597.5 L88.3,597.5 L86.0,597.5 L83.6,597.5 L81.3,597.5 L78.9,597.5 L76.6,597.5 L74.3,597.5 L71.9,597.5 L69.6,597.5 L67.2,597.5 L64.9,597.5 L62.6,597.5 L60.2,597.5 L57.9,597.5 L55.5,597.5 L53.2,597.5Z" fill="#cccccf"/>
    <path d="M53.2,573.8 L55.5,570.9 L57.9,586.4 L60.2,594.4 L62.6,597.4 L64.9,589.0 L67.2,576.4 L69.6,572.6 L71.9,587.6 L74.3,594.7 L76.6,596.8 L78.9,588.7 L81.3,572.2 L83.6,575.6 L86.0,587.2 L88.3,594.4 L90.6,597.1 L93.0,589.2 L95.3,576.4 L97.7,574.6 L100.0,588.2 L102.3,594.7 L104.7,596.8 L107.0,588.6 L109.4,575.8 L111.7,572.9 L114.0,587.7 L116.4,594.9 L118.7,596.7 L121.1,587.2 L123.4,568.8 L125.7,571.2 L128.1,586.0 L130.4,594.4 L132.8,597.3 L135.1,589.0 L137.5,576.2 L139.8,573.5 L142.1,588.1 L144.5,594.5 L146.8,596.7 L149.2,588.3 L151.5,575.2 L153.8,573.2 L156.2,587.1 L158.5,594.6 L160.9,597.2 L163.2,587.7 L165.5,570.6 L167.9,571.3 L170.2,585.9 L172.6,594.7 L174.9,597.1 L177.2,588.4 L179.6,574.5 L181.9,571.2 L184.3,587.0 L186.6,594.9 L188.9,597.3 L191.3,587.2 L193.6,569.8 L196.0,571.7 L198.3,585.8 L200.6,594.1 L203.0,596.9 L205.3,587.2 L207.7,569.2 L210.0,572.9 L212.3,586.3 L214.7,594.3 L217.0,596.9 L219.4,587.6 L221.7,570.0 L224.0,574.3 L226.4,586.9 L228.7,594.5 L231.1,596.7 L233.4,588.0 L235.7,571.6 L238.1,571.9 L240.4,586.3 L242.8,594.2 L245.1,596.8 L247.4,587.5 L249.8,573.0 L252.1,570.9 L254.5,586.3 L256.8,594.3 L259.1,597.2 L261.5,588.6 L263.8,575.2 L266.2,572.5 L268.5,587.4 L270.9,595.0 L273.2,597.2 L275.5,589.4 L277.9,574.5 L280.2,575.7 L282.6,588.2 L284.9,594.8 L287.2,596.7 L289.6,588.0 L291.9,571.6 L294.3,572.7 L296.6,586.8 L298.9,594.6 L301.3,597.1 L303.6,587.7 L306.0,571.9 L308.3,573.4 L310.6,586.8 L313.0,594.6 L315.3,597.0 L317.7,587.5 L320.0,569.2 L322.3,571.8 L324.7,585.7 L327.0,594.0 L329.4,596.7 L331.7,587.8 L334.0,571.9 L336.4,570.4 L338.7,586.0 L341.1,594.2 L343.4,597.3 L345.7,588.3 L348.1,572.4 L350.4,574.7 L352.8,587.6 L355.1,594.6 L357.4,596.8 L359.8,587.7 L362.1,570.7 L364.5,572.3 L366.8,586.0 L369.1,594.4 L371.5,597.4 L373.8,588.0 L376.2,572.3 L378.5,572.6 L380.8,587.1 L383.2,594.6 L385.5,597.2 L387.9,587.0 L390.2,571.5 L392.5,569.7 L394.9,585.6 L397.2,594.1 L399.6,597.2 L401.9,588.6 L404.3,575.3 L406.6,573.4 L408.9,587.8 L411.3,594.8 L413.6,597.2 L416.0,588.2 L418.3,572.9 L420.6,573.1 L423.0,586.9 L425.3,594.3 L427.7,596.7 L430.0,588.7 L432.3,572.0 L434.7,575.6 L437.0,587.4 L439.4,594.9 L441.7,596.9 L444.0,587.4 L446.4,573.7 L448.7,569.8 L451.1,586.7 L453.4,594.7 L455.7,597.3 L458.1,588.2 L460.4,572.1 L462.8,572.8 L465.1,586.5 L467.4,594.3 L469.8,597.0 L472.1,591.8 L474.5,582.9 L476.8,582.7 L479.1,591.3 L481.5,595.7 L483.8,596.7 L486.2,587.3 L488.5,569.3 L490.8,571.7 L493.2,585.7 L495.5,594.1 L497.9,596.9 L500.2,588.1 L502.5,571.6 L504.9,574.9 L507.2,587.5 L509.6,594.5 L511.9,597.2 L514.2,588.6 L516.6,572.6 L518.9,575.8 L521.3,587.3 L523.6,595.1 L525.9,597.3 L528.3,587.7 L530.6,572.7 L533.0,570.4 L535.3,586.0 L537.7,594.1 L540.0,596.8 L542.3,587.1 L544.7,572.9 L547.0,569.3 L549.4,586.5 L551.7,594.4 L554.0,596.9 L556.4,588.0 L558.7,572.9 L561.1,571.9 L563.4,586.9 L565.7,594.6 L568.1,596.7 L570.4,587.3 L572.8,573.3 L575.1,569.7 L577.4,586.0 L579.8,594.4 L582.1,596.9 L584.5,587.6 L586.8,570.6 L589.1,571.5 L591.5,586.2 L593.8,594.3 L596.2,596.7 L598.5,587.7 L600.8,570.9 L603.2,571.3 L605.5,586.4 L607.9,594.3 L610.2,597.2 L612.5,587.5 L614.9,571.3 L617.2,573.2 L619.6,586.5 L621.9,594.4 L624.2,597.0 L626.6,588.9 L628.9,574.5 L631.3,547.3 L633.6,588.1 L635.9,594.7 L638.3,596.8 L640.6,588.6 L643.0,574.7 L645.3,573.8 L647.6,587.6 L650.0,595.0 L652.3,597.1 L654.7,589.1 L657.0,576.8 L659.3,573.4 L661.7,588.0 L664.0,594.7 L666.4,597.2 L668.7,588.7 L671.1,574.9 L673.4,573.9 L675.7,587.5 L678.1,594.9 L680.4,597.1 L682.8,587.3 L685.1,568.8 L687.4,572.1 L689.8,585.9 L692.1,594.2 L694.5,597.3 L696.8,587.5 L699.1,569.4 L701.5,572.7 L703.8,586.3 L706.2,594.7 L708.5,596.9 L710.8,587.4 L713.2,570.0 L715.5,573.0 L717.9,586.2 L720.2,594.5 L722.5,596.9 L724.9,587.4 L727.2,571.6 L729.6,571.6 L731.9,586.3 L734.2,594.1 L736.6,597.1 L738.9,588.3 L741.3,571.4 L743.6,573.7 L745.9,586.9 L748.3,594.2 L750.6,596.9 L753.0,588.8 L755.3,575.2 L757.6,572.7 L760.0,587.6 L762.3,594.9 L764.7,597.2 L767.0,587.7 L769.3,573.3 L771.7,571.1 L774.0,586.4 L776.4,594.6 L778.7,597.3 L781.0,586.9 L783.4,570.3 L785.7,570.4 L788.1,585.7 L790.4,594.6 L792.7,597.0 L795.1,588.6 L797.4,568.7 L799.8,575.1 L802.1,588.2 L804.5,596.1 L806.8,596.1 L809.1,588.9 L811.5,576.7 L813.8,574.4 L816.2,587.2 L818.5,595.6 L820.8,596.3 L823.2,588.6 L825.5,573.6 L827.9,573.6 L830.2,588.2 L832.5,596.5 L834.9,596.3 L837.2,589.7 L839.6,571.4 L841.9,573.0 L844.2,589.5 L846.6,596.5 L848.9,597.1 L851.3,589.3 L853.6,574.8 L855.9,571.4 L858.3,588.9 L860.6,597.1 L863.0,595.8 L865.3,590.1 L867.6,575.3 L870.0,572.8 L872.3,589.9 L874.7,595.8 L877.0,597.1 L879.3,588.6 L881.7,574.2 L884.0,572.6 L886.4,589.9 L888.7,596.5 L891.0,596.9 L893.4,589.1 L895.7,574.2 L898.1,577.7 L900.4,588.9" fill="none" stroke="#a6a6a8" stroke-width="1.1" stroke-linejoin="round"/>
  </g>
  <g clip-path="url(#csel)">
    <path d="M53.2,557.1 L55.5,557.5 L57.9,559.5 L60.2,559.8 L62.6,547.7 L64.9,547.7 L67.2,547.7 L69.6,547.7 L71.9,547.7 L74.3,547.7 L76.6,547.7 L78.9,547.7 L81.3,547.7 L83.6,547.7 L86.0,547.7 L88.3,547.7 L90.6,547.7 L93.0,580.6 L95.3,552.0 L97.7,559.8 L100.0,577.0 L102.3,589.0 L104.7,589.5 L107.0,582.1 L109.4,549.1 L111.7,557.0 L114.0,579.6 L116.4,590.2 L118.7,590.4 L121.1,582.5 L123.4,556.5 L125.7,563.2 L128.1,580.0 L130.4,591.0 L132.8,590.9 L135.1,583.6 L137.5,556.2 L139.8,562.8 L142.1,581.2 L144.5,591.4 L146.8,592.2 L149.2,584.0 L151.5,556.6 L153.8,563.9 L156.2,581.5 L158.5,592.3 L160.9,592.1 L163.2,585.1 L165.5,557.6 L167.9,564.8 L170.2,582.1 L172.6,592.4 L174.9,592.3 L177.2,585.1 L179.6,557.8 L181.9,564.7 L184.3,582.3 L186.6,592.7 L188.9,591.9 L191.3,584.0 L193.6,555.2 L196.0,562.7 L198.3,580.6 L200.6,591.7 L203.0,591.9 L205.3,584.9 L207.7,557.2 L210.0,564.1 L212.3,581.6 L214.7,592.6 L217.0,592.2 L219.4,584.2 L221.7,555.4 L224.0,562.5 L226.4,580.9 L228.7,592.2 L231.1,592.4 L233.4,584.7 L235.7,556.7 L238.1,563.0 L240.4,581.4 L242.8,592.2 L245.1,591.9 L247.4,584.8 L249.8,557.1 L252.1,563.8 L254.5,581.3 L256.8,591.7 L259.1,592.5 L261.5,584.6 L263.8,556.9 L266.2,563.1 L268.5,582.0 L270.9,591.8 L273.2,591.9 L275.5,584.9 L277.9,556.6 L280.2,563.4 L282.6,581.8 L284.9,592.2 L287.2,591.9 L289.6,584.4 L291.9,555.7 L294.3,562.1 L296.6,581.3 L298.9,591.8 L301.3,591.9 L303.6,584.8 L306.0,555.0 L308.3,562.4 L310.6,580.8 L313.0,592.0 L315.3,591.9 L317.7,584.0 L320.0,554.3 L322.3,561.9 L324.7,580.5 L327.0,591.9 L329.4,592.2 L331.7,584.3 L334.0,554.1 L336.4,562.0 L338.7,581.4 L341.1,592.3 L343.4,592.4 L345.7,584.7 L348.1,556.3 L350.4,563.2 L352.8,582.2 L355.1,592.5 L357.4,592.2 L359.8,584.8 L362.1,554.9 L364.5,562.0 L366.8,581.5 L369.1,592.4 L371.5,591.8 L373.8,584.7 L376.2,554.7 L378.5,561.8 L380.8,581.3 L383.2,591.7 L385.5,592.3 L387.9,584.3 L390.2,555.2 L392.5,562.1 L394.9,581.9 L397.2,592.6 L399.6,592.3 L401.9,584.8 L404.3,554.5 L406.6,561.7 L408.9,581.2 L411.3,592.2 L413.6,592.3 L416.0,585.0 L418.3,555.8 L420.6,563.1 L423.0,581.7 L425.3,592.5 L427.7,592.0 L430.0,585.2 L432.3,555.8 L434.7,562.3 L437.0,581.6 L439.4,592.3 L441.7,592.0 L444.0,585.3 L446.4,555.3 L448.7,562.5 L451.1,582.3 L453.4,592.7 L455.7,592.5 L458.1,584.3 L460.4,553.9 L462.8,562.0 L465.1,581.5 L467.4,592.3 L469.8,592.7 L472.1,584.4 L474.5,554.8 L476.8,562.0 L479.1,581.9 L481.5,592.6 L483.8,592.0 L486.2,584.4 L488.5,553.4 L490.8,561.4 L493.2,581.0 L495.5,591.8 L497.9,591.8 L500.2,584.4 L502.5,553.7 L504.9,560.8 L507.2,581.2 L509.6,591.9 L511.9,592.0 L514.2,584.5 L516.6,553.6 L518.9,561.3 L521.3,580.9 L523.6,592.0 L525.9,592.6 L528.3,585.1 L530.6,554.7 L533.0,562.3 L535.3,581.6 L537.7,592.0 L540.0,592.6 L542.3,584.9 L544.7,554.9 L547.0,561.8 L549.4,581.0 L551.7,592.1 L554.0,592.3 L556.4,584.7 L558.7,556.3 L561.1,563.3 L563.4,581.6 L565.7,591.9 L568.1,592.4 L570.4,584.2 L572.8,553.1 L575.1,561.0 L577.4,580.7 L579.8,591.5 L582.1,592.5 L584.5,585.5 L586.8,557.1 L589.1,563.5 L591.5,582.2 L593.8,592.4 L596.2,591.8 L598.5,584.5 L600.8,553.7 L603.2,561.5 L605.5,580.7 L607.9,591.8 L610.2,591.9 L612.5,584.6 L614.9,557.2 L617.2,563.8 L619.6,582.3 L621.9,592.7 L624.2,592.3 L626.6,584.9 L628.9,555.6 L631.3,563.3 L633.6,581.2 L635.9,591.9 L638.3,592.5 L640.6,584.5 L643.0,556.9 L645.3,563.5 L647.6,581.9 L650.0,591.9 L652.3,592.1 L654.7,584.3 L657.0,556.4 L659.3,563.5 L661.7,581.2 L664.0,592.3 L666.4,592.5 L668.7,584.4 L671.1,555.4 L673.4,562.9 L675.7,581.4 L678.1,592.1 L680.4,592.5 L682.8,585.0 L685.1,557.8 L687.4,564.0 L689.8,581.5 L692.1,592.5 L694.5,592.3 L696.8,584.8 L699.1,557.4 L701.5,564.7 L703.8,581.5 L706.2,592.6 L708.5,592.8 L710.8,585.0 L713.2,558.5 L715.5,564.9 L717.9,582.1 L720.2,591.9 L722.5,592.0 L724.9,584.7 L727.2,556.7 L729.6,563.5 L731.9,581.1 L734.2,592.0 L736.6,592.2 L738.9,584.1 L741.3,556.2 L743.6,563.4 L745.9,581.3 L748.3,592.4 L750.6,592.5 L753.0,584.6 L755.3,556.3 L757.6,564.0 L760.0,581.6 L762.3,591.9 L764.7,592.7 L767.0,585.2 L769.3,558.0 L771.7,565.1 L774.0,581.5 L776.4,592.2 L778.7,591.9 L781.0,585.1 L783.4,558.2 L785.7,564.4 L788.1,582.1 L790.4,592.3 L792.7,592.5 L795.1,584.6 L797.4,556.9 L799.8,563.2 L802.1,581.2 L804.5,591.9 L806.8,592.6 L809.1,584.4 L811.5,557.7 L813.8,563.8 L816.2,581.1 L818.5,591.8 L820.8,592.5 L823.2,584.5 L825.5,556.7 L827.9,563.2 L830.2,581.2 L832.5,591.7 L834.9,591.9 L837.2,585.1 L839.6,557.4 L841.9,564.7 L844.2,581.6 L846.6,592.1 L848.9,592.5 L851.3,585.3 L853.6,558.2 L855.9,564.7 L858.3,581.6 L860.6,592.3 L863.0,592.3 L865.3,584.3 L867.6,557.5 L870.0,564.4 L872.3,582.1 L874.7,592.3 L877.0,592.3 L879.3,585.1 L881.7,556.8 L884.0,563.8 L886.4,581.7 L888.7,592.0 L891.0,592.4 L893.4,584.8 L895.7,557.4 L898.1,564.0 L900.4,581.7 L900.4,597.5 L898.1,594.0 L895.7,591.7 L893.4,597.5 L891.0,597.5 L888.7,597.5 L886.4,597.5 L884.0,594.0 L881.7,591.7 L879.3,597.5 L877.0,597.5 L874.7,597.5 L872.3,597.5 L870.0,594.0 L867.6,591.7 L865.3,597.5 L863.0,597.5 L860.6,597.5 L858.3,597.5 L855.9,594.0 L853.6,591.7 L851.3,597.5 L848.9,597.5 L846.6,597.5 L844.2,597.5 L841.9,594.0 L839.6,591.7 L837.2,597.5 L834.9,597.5 L832.5,597.5 L830.2,597.5 L827.9,594.0 L825.5,591.7 L823.2,597.5 L820.8,597.5 L818.5,597.5 L816.2,597.5 L813.8,594.0 L811.5,591.7 L809.1,597.5 L806.8,597.5 L804.5,597.5 L802.1,597.5 L799.8,594.0 L797.4,591.7 L795.1,597.5 L792.7,597.5 L790.4,597.5 L788.1,597.5 L785.7,594.0 L783.4,591.7 L781.0,597.5 L778.7,597.5 L776.4,597.5 L774.0,597.5 L771.7,594.0 L769.3,591.7 L767.0,597.5 L764.7,597.5 L762.3,597.5 L760.0,597.5 L757.6,594.0 L755.3,591.7 L753.0,597.5 L750.6,597.5 L748.3,597.5 L745.9,597.5 L743.6,594.0 L741.3,591.7 L738.9,597.5 L736.6,597.5 L734.2,597.5 L731.9,597.5 L729.6,594.0 L727.2,591.7 L724.9,597.5 L722.5,597.5 L720.2,597.5 L717.9,597.5 L715.5,594.0 L713.2,591.7 L710.8,597.5 L708.5,597.5 L706.2,597.5 L703.8,597.5 L701.5,594.0 L699.1,591.7 L696.8,597.5 L694.5,597.5 L692.1,597.5 L689.8,597.5 L687.4,594.0 L685.1,591.7 L682.8,597.5 L680.4,597.5 L678.1,597.5 L675.7,597.5 L673.4,594.0 L671.1,591.7 L668.7,597.5 L666.4,597.5 L664.0,597.5 L661.7,597.5 L659.3,594.0 L657.0,591.7 L654.7,597.5 L652.3,597.5 L650.0,597.5 L647.6,597.5 L645.3,594.0 L643.0,591.7 L640.6,597.5 L638.3,597.5 L635.9,597.5 L633.6,597.5 L631.3,594.0 L628.9,591.7 L626.6,597.5 L624.2,597.5 L621.9,597.5 L619.6,597.5 L617.2,594.0 L614.9,591.7 L612.5,597.5 L610.2,597.5 L607.9,597.5 L605.5,597.5 L603.2,594.0 L600.8,591.7 L598.5,597.5 L596.2,597.5 L593.8,597.5 L591.5,597.5 L589.1,594.0 L586.8,591.7 L584.5,597.5 L582.1,597.5 L579.8,597.5 L577.4,597.5 L575.1,594.0 L572.8,591.7 L570.4,597.5 L568.1,597.5 L565.7,597.5 L563.4,597.5 L561.1,594.0 L558.7,591.7 L556.4,597.5 L554.0,597.5 L551.7,597.5 L549.4,597.5 L547.0,594.0 L544.7,591.7 L542.3,597.5 L540.0,597.5 L537.7,597.5 L535.3,597.5 L533.0,594.0 L530.6,591.7 L528.3,597.5 L525.9,597.5 L523.6,597.5 L521.3,597.5 L518.9,594.0 L516.6,591.7 L514.2,597.5 L511.9,597.5 L509.6,597.5 L507.2,597.5 L504.9,594.0 L502.5,591.7 L500.2,597.5 L497.9,597.5 L495.5,597.5 L493.2,597.5 L490.8,594.0 L488.5,591.7 L486.2,597.5 L483.8,597.5 L481.5,597.5 L479.1,597.5 L476.8,594.0 L474.5,591.7 L472.1,597.5 L469.8,597.5 L467.4,597.5 L465.1,597.5 L462.8,594.0 L460.4,591.7 L458.1,597.5 L455.7,597.5 L453.4,597.5 L451.1,597.5 L448.7,594.0 L446.4,591.7 L444.0,597.5 L441.7,597.5 L439.4,597.5 L437.0,597.5 L434.7,594.0 L432.3,591.7 L430.0,597.5 L427.7,597.5 L425.3,597.5 L423.0,597.5 L420.6,594.0 L418.3,591.7 L416.0,597.5 L413.6,597.5 L411.3,597.5 L408.9,597.5 L406.6,594.0 L404.3,591.7 L401.9,597.5 L399.6,597.5 L397.2,597.5 L394.9,597.5 L392.5,594.0 L390.2,591.7 L387.9,597.5 L385.5,597.5 L383.2,597.5 L380.8,597.5 L378.5,594.0 L376.2,591.7 L373.8,597.5 L371.5,597.5 L369.1,597.5 L366.8,597.5 L364.5,594.0 L362.1,591.7 L359.8,597.5 L357.4,597.5 L355.1,597.5 L352.8,597.5 L350.4,594.0 L348.1,591.7 L345.7,597.5 L343.4,597.5 L341.1,597.5 L338.7,597.5 L336.4,594.0 L334.0,591.7 L331.7,597.5 L329.4,597.5 L327.0,597.5 L324.7,597.5 L322.3,594.0 L320.0,591.7 L317.7,597.5 L315.3,597.5 L313.0,597.5 L310.6,597.5 L308.3,594.0 L306.0,591.7 L303.6,597.5 L301.3,597.5 L298.9,597.5 L296.6,597.5 L294.3,594.0 L291.9,591.7 L289.6,597.5 L287.2,597.5 L284.9,597.5 L282.6,597.5 L280.2,594.0 L277.9,591.7 L275.5,597.5 L273.2,597.5 L270.9,597.5 L268.5,597.5 L266.2,594.0 L263.8,591.7 L261.5,597.5 L259.1,597.5 L256.8,597.5 L254.5,597.5 L252.1,594.0 L249.8,591.7 L247.4,597.5 L245.1,597.5 L242.8,597.5 L240.4,597.5 L238.1,594.0 L235.7,591.7 L233.4,597.5 L231.1,597.5 L228.7,597.5 L226.4,597.5 L224.0,594.0 L221.7,591.7 L219.4,597.5 L217.0,597.5 L214.7,597.5 L212.3,597.5 L210.0,594.0 L207.7,591.7 L205.3,597.5 L203.0,597.5 L200.6,597.5 L198.3,597.5 L196.0,594.0 L193.6,591.7 L191.3,597.5 L188.9,597.5 L186.6,597.5 L184.3,597.5 L181.9,594.0 L179.6,591.7 L177.2,597.5 L174.9,597.5 L172.6,597.5 L170.2,597.5 L167.9,594.0 L165.5,591.7 L163.2,597.5 L160.9,597.5 L158.5,597.5 L156.2,597.5 L153.8,594.0 L151.5,591.7 L149.2,597.5 L146.8,597.5 L144.5,597.5 L142.1,597.5 L139.8,594.0 L137.5,591.7 L135.1,597.5 L132.8,597.5 L130.4,597.5 L128.1,597.5 L125.7,594.0 L123.4,591.7 L121.1,597.5 L118.7,597.5 L116.4,597.5 L114.0,597.5 L111.7,594.0 L109.4,591.7 L107.0,597.5 L104.7,597.5 L102.3,597.5 L100.0,597.5 L97.7,594.0 L95.3,591.7 L93.0,597.5 L90.6,597.5 L88.3,597.5 L86.0,597.5 L83.6,597.5 L81.3,597.5 L78.9,597.5 L76.6,597.5 L74.3,597.5 L71.9,597.5 L69.6,597.5 L67.2,597.5 L64.9,597.5 L62.6,597.5 L60.2,597.5 L57.9,597.5 L55.5,597.5 L53.2,597.5Z" fill="#c8e0ea"/>
    <path d="M902.7,590.0 L905.1,590.5 L907.4,582.9 L909.8,555.7 L912.1,561.9 L914.4,579.4 L916.8,590.0 L919.1,590.5 L921.5,582.9 L923.8,555.7 L926.1,561.9 L928.5,579.4 L930.8,590.0 L933.2,590.5 L935.5,582.9 L937.9,555.7 L940.2,561.9 L942.5,579.4 L944.9,590.0 L947.2,590.5 L949.6,582.9 L951.9,555.7 L954.2,561.9 L956.6,579.4 L958.9,590.0 L961.3,590.5 L963.6,582.9 L965.9,555.7 L968.3,561.9 L970.6,579.4 L973.0,590.0 L975.3,590.5 L977.6,582.9 L980.0,555.7 L982.3,561.9 L984.7,579.4 L987.0,590.0 L989.3,590.5 L991.7,582.9 L994.0,555.7 L996.4,561.9 L998.7,579.4 L1001.0,590.0 L1003.4,590.5 L1003.4,597.5 L1001.0,597.5 L998.7,597.5 L996.4,594.2 L994.0,592.2 L991.7,597.5 L989.3,597.5 L987.0,597.5 L984.7,597.5 L982.3,594.2 L980.0,592.2 L977.6,597.5 L975.3,597.5 L973.0,597.5 L970.6,597.5 L968.3,594.2 L965.9,592.2 L963.6,597.5 L961.3,597.5 L958.9,597.5 L956.6,597.5 L954.2,594.2 L951.9,592.2 L949.6,597.5 L947.2,597.5 L944.9,597.5 L942.5,597.5 L940.2,594.2 L937.9,592.2 L935.5,597.5 L933.2,597.5 L930.8,597.5 L928.5,597.5 L926.1,594.2 L923.8,592.2 L921.5,597.5 L919.1,597.5 L916.8,597.5 L914.4,597.5 L912.1,594.2 L909.8,592.2 L907.4,597.5 L905.1,597.5 L902.7,597.5Z" fill="#eddfba"/>
    <path d="M53.2,573.8 L55.5,570.9 L57.9,586.4 L60.2,594.4 L62.6,597.4 L64.9,589.0 L67.2,576.4 L69.6,572.6 L71.9,587.6 L74.3,594.7 L76.6,596.8 L78.9,588.7 L81.3,572.2 L83.6,575.6 L86.0,587.2 L88.3,594.4 L90.6,597.1 L93.0,589.2 L95.3,576.4 L97.7,574.6 L100.0,588.2 L102.3,594.7 L104.7,596.8 L107.0,588.6 L109.4,575.8 L111.7,572.9 L114.0,587.7 L116.4,594.9 L118.7,596.7 L121.1,587.2 L123.4,568.8 L125.7,571.2 L128.1,586.0 L130.4,594.4 L132.8,597.3 L135.1,589.0 L137.5,576.2 L139.8,573.5 L142.1,588.1 L144.5,594.5 L146.8,596.7 L149.2,588.3 L151.5,575.2 L153.8,573.2 L156.2,587.1 L158.5,594.6 L160.9,597.2 L163.2,587.7 L165.5,570.6 L167.9,571.3 L170.2,585.9 L172.6,594.7 L174.9,597.1 L177.2,588.4 L179.6,574.5 L181.9,571.2 L184.3,587.0 L186.6,594.9 L188.9,597.3 L191.3,587.2 L193.6,569.8 L196.0,571.7 L198.3,585.8 L200.6,594.1 L203.0,596.9 L205.3,587.2 L207.7,569.2 L210.0,572.9 L212.3,586.3 L214.7,594.3 L217.0,596.9 L219.4,587.6 L221.7,570.0 L224.0,574.3 L226.4,586.9 L228.7,594.5 L231.1,596.7 L233.4,588.0 L235.7,571.6 L238.1,571.9 L240.4,586.3 L242.8,594.2 L245.1,596.8 L247.4,587.5 L249.8,573.0 L252.1,570.9 L254.5,586.3 L256.8,594.3 L259.1,597.2 L261.5,588.6 L263.8,575.2 L266.2,572.5 L268.5,587.4 L270.9,595.0 L273.2,597.2 L275.5,589.4 L277.9,574.5 L280.2,575.7 L282.6,588.2 L284.9,594.8 L287.2,596.7 L289.6,588.0 L291.9,571.6 L294.3,572.7 L296.6,586.8 L298.9,594.6 L301.3,597.1 L303.6,587.7 L306.0,571.9 L308.3,573.4 L310.6,586.8 L313.0,594.6 L315.3,597.0 L317.7,587.5 L320.0,569.2 L322.3,571.8 L324.7,585.7 L327.0,594.0 L329.4,596.7 L331.7,587.8 L334.0,571.9 L336.4,570.4 L338.7,586.0 L341.1,594.2 L343.4,597.3 L345.7,588.3 L348.1,572.4 L350.4,574.7 L352.8,587.6 L355.1,594.6 L357.4,596.8 L359.8,587.7 L362.1,570.7 L364.5,572.3 L366.8,586.0 L369.1,594.4 L371.5,597.4 L373.8,588.0 L376.2,572.3 L378.5,572.6 L380.8,587.1 L383.2,594.6 L385.5,597.2 L387.9,587.0 L390.2,571.5 L392.5,569.7 L394.9,585.6 L397.2,594.1 L399.6,597.2 L401.9,588.6 L404.3,575.3 L406.6,573.4 L408.9,587.8 L411.3,594.8 L413.6,597.2 L416.0,588.2 L418.3,572.9 L420.6,573.1 L423.0,586.9 L425.3,594.3 L427.7,596.7 L430.0,588.7 L432.3,572.0 L434.7,575.6 L437.0,587.4 L439.4,594.9 L441.7,596.9 L444.0,587.4 L446.4,573.7 L448.7,569.8 L451.1,586.7 L453.4,594.7 L455.7,597.3 L458.1,588.2 L460.4,572.1 L462.8,572.8 L465.1,586.5 L467.4,594.3 L469.8,597.0 L472.1,591.8 L474.5,582.9 L476.8,582.7 L479.1,591.3 L481.5,595.7 L483.8,596.7 L486.2,587.3 L488.5,569.3 L490.8,571.7 L493.2,585.7 L495.5,594.1 L497.9,596.9 L500.2,588.1 L502.5,571.6 L504.9,574.9 L507.2,587.5 L509.6,594.5 L511.9,597.2 L514.2,588.6 L516.6,572.6 L518.9,575.8 L521.3,587.3 L523.6,595.1 L525.9,597.3 L528.3,587.7 L530.6,572.7 L533.0,570.4 L535.3,586.0 L537.7,594.1 L540.0,596.8 L542.3,587.1 L544.7,572.9 L547.0,569.3 L549.4,586.5 L551.7,594.4 L554.0,596.9 L556.4,588.0 L558.7,572.9 L561.1,571.9 L563.4,586.9 L565.7,594.6 L568.1,596.7 L570.4,587.3 L572.8,573.3 L575.1,569.7 L577.4,586.0 L579.8,594.4 L582.1,596.9 L584.5,587.6 L586.8,570.6 L589.1,571.5 L591.5,586.2 L593.8,594.3 L596.2,596.7 L598.5,587.7 L600.8,570.9 L603.2,571.3 L605.5,586.4 L607.9,594.3 L610.2,597.2 L612.5,587.5 L614.9,571.3 L617.2,573.2 L619.6,586.5 L621.9,594.4 L624.2,597.0 L626.6,588.9 L628.9,574.5 L631.3,547.3 L633.6,588.1 L635.9,594.7 L638.3,596.8 L640.6,588.6 L643.0,574.7 L645.3,573.8 L647.6,587.6 L650.0,595.0 L652.3,597.1 L654.7,589.1 L657.0,576.8 L659.3,573.4 L661.7,588.0 L664.0,594.7 L666.4,597.2 L668.7,588.7 L671.1,574.9 L673.4,573.9 L675.7,587.5 L678.1,594.9 L680.4,597.1 L682.8,587.3 L685.1,568.8 L687.4,572.1 L689.8,585.9 L692.1,594.2 L694.5,597.3 L696.8,587.5 L699.1,569.4 L701.5,572.7 L703.8,586.3 L706.2,594.7 L708.5,596.9 L710.8,587.4 L713.2,570.0 L715.5,573.0 L717.9,586.2 L720.2,594.5 L722.5,596.9 L724.9,587.4 L727.2,571.6 L729.6,571.6 L731.9,586.3 L734.2,594.1 L736.6,597.1 L738.9,588.3 L741.3,571.4 L743.6,573.7 L745.9,586.9 L748.3,594.2 L750.6,596.9 L753.0,588.8 L755.3,575.2 L757.6,572.7 L760.0,587.6 L762.3,594.9 L764.7,597.2 L767.0,587.7 L769.3,573.3 L771.7,571.1 L774.0,586.4 L776.4,594.6 L778.7,597.3 L781.0,586.9 L783.4,570.3 L785.7,570.4 L788.1,585.7 L790.4,594.6 L792.7,597.0 L795.1,588.6 L797.4,568.7 L799.8,575.1 L802.1,588.2 L804.5,596.1 L806.8,596.1 L809.1,588.9 L811.5,576.7 L813.8,574.4 L816.2,587.2 L818.5,595.6 L820.8,596.3 L823.2,588.6 L825.5,573.6 L827.9,573.6 L830.2,588.2 L832.5,596.5 L834.9,596.3 L837.2,589.7 L839.6,571.4 L841.9,573.0 L844.2,589.5 L846.6,596.5 L848.9,597.1 L851.3,589.3 L853.6,574.8 L855.9,571.4 L858.3,588.9 L860.6,597.1 L863.0,595.8 L865.3,590.1 L867.6,575.3 L870.0,572.8 L872.3,589.9 L874.7,595.8 L877.0,597.1 L879.3,588.6 L881.7,574.2 L884.0,572.6 L886.4,589.9 L888.7,596.5 L891.0,596.9 L893.4,589.1 L895.7,574.2 L898.1,577.7 L900.4,588.9" fill="none" stroke="#3c9abb" stroke-width="1.25" stroke-linejoin="round"/>
    <path d="M902.7,595.2 L905.1,597.1 L907.4,589.3 L909.8,573.9 L912.1,573.9 L914.4,587.6 L916.8,595.2 L919.1,597.1 L921.5,589.3 L923.8,573.9 L926.1,573.9 L928.5,587.6 L930.8,595.2 L933.2,597.1 L935.5,589.3 L937.9,573.9 L940.2,573.9 L942.5,587.6 L944.9,595.2 L947.2,597.1 L949.6,589.3 L951.9,573.9 L954.2,573.9 L956.6,587.6 L958.9,595.2 L961.3,597.1 L963.6,589.3 L965.9,573.9 L968.3,573.9 L970.6,587.6 L973.0,595.2 L975.3,597.1 L977.6,589.3 L980.0,573.9 L982.3,573.9 L984.7,587.6 L987.0,595.2 L989.3,597.1 L991.7,589.3 L994.0,573.9 L996.4,573.9 L998.7,587.6 L1001.0,595.2 L1003.4,597.1" fill="none" stroke="#c39b27" stroke-width="1.25" stroke-linejoin="round"/>
  </g>
  <!-- swimlane separator & ticks -->
  <path d="M50 598.5H799" stroke="#d6d6d9" stroke-width="1"/>
  <path d="M799 598.5H998" stroke="#e6e7ea" stroke-width="1"/>
  <g stroke="#cfcfd2" stroke-width="1" shape-rendering="crispEdges">
    <path d="M147.5 546V624M245.5 546V624M343.5 546V624M441.5 546V624M539.5 546V624M637.5 546V624M735.5 546V624"/>
  </g>
  <g stroke="#e3e4e8" stroke-width="1" shape-rendering="crispEdges"><path d="M833.5 546V624M931.5 546V624"/></g>
  <path d="M50 624.5H799" stroke="#d0d0d3" stroke-width="1"/>
  <path d="M50.5 546V624" stroke="#d0d0d3" stroke-width="1"/>
  <!-- anomalies -->
  <rect x="209" y="599" width="1.6" height="25" fill="#a9c9e6"/>
  <rect x="475.3" y="599" width="2.4" height="25" fill="#5da5e4"/>
  <rect x="477.7" y="599" width="2.1" height="25" fill="#e21f2c"/>
  <!-- context labels -->
  <g font-size="9.8" fill="#2b2e36" text-anchor="middle">
    <text x="148.1" y="594">2020-06-13</text><text x="246.1" y="594">2020-06-20</text><text x="344.1" y="594">2020-06-27</text><text x="442.1" y="594">2020-07-04</text><text x="540.1" y="594">2020-07-11</text><text x="638.1" y="594">2020-07-18</text><text x="736.1" y="594">2020-07-25</text><text x="834.1" y="594">2020-08-01</text><text x="932.1" y="594">2020-08-08</text>
  </g>
  <!-- focus frame -->
  <path d="M998.7 543.9H1000.95V224.5H50.05V544.1H799" fill="none" stroke="#454c61" stroke-width="1.5"/>
  <!-- selection frame -->
  <path d="M799 543.4V624.3H998.7V543.2" fill="none" stroke="#454c61" stroke-width="1.45"/>
  <rect x="999.5" y="545" width="2.2" height="8.3" fill="#e2e5ed"/>
  <!-- handles -->
  <path d="M798.3 553.8H794a3.5 3.5 0 0 0-3.5 3.5v54.2a3.5 3.5 0 0 0 3.5 3.5h4.3z" fill="#c7cce0" stroke="#6c7286" stroke-width="1"/>
  <path d="M999.4 553.8h3.6a3.5 3.5 0 0 1 3.5 3.5v54.2a3.5 3.5 0 0 1-3.5 3.5h-3.6z" fill="#c7cce0" stroke="#6c7286" stroke-width="1"/>
  <path d="M796.9 583.2v6.2l-3.5-3.1z" fill="#3b3f4c"/>
  <path d="M1001.6 583.2v6.2l3.5-3.1z" fill="#3b3f4c"/>
</svg>
</div>
</body></html>
